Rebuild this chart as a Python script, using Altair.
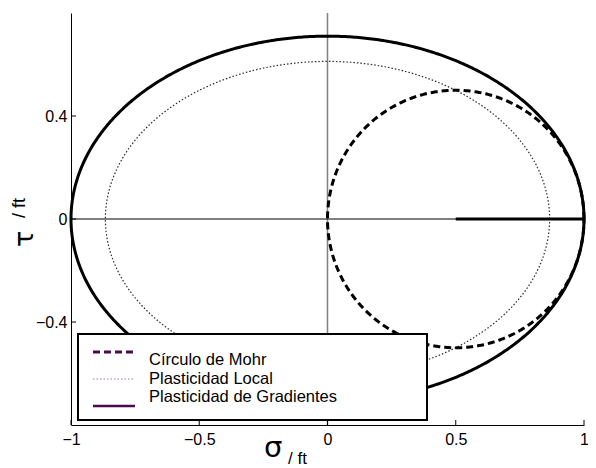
import numpy as np
import pandas as pd
import altair as alt

# ---- values ----
CURVE_NAMES = ["Plasticidad de Gradientes", "Plasticidad Local", "Círculo de Mohr"]
CENTER_X = [0.0, 0.0, 0.5]
RADIUS_X = [1.0, 0.866, 0.5]
RADIUS_Y = [0.71, 0.612, 0.5]
SEGMENT_X = [0.5, 1.0]
SEGMENT_Y = [0.0, 0.0]
X_TICKS = [-1, -0.5, 0, 0.5, 1]
Y_TICKS = [-0.4, 0, 0.4]
X_DOMAIN = [-1, 1]
Y_DOMAIN = [-0.8, 0.8]
LEGEND_LABELS = ["Círculo de Mohr", "Plasticidad Local", "Plasticidad de Gradientes"]

W, H = 513, 412
FONT = "Liberation Sans"

rows = []
t = np.linspace(0, 2 * np.pi, 721)
for name, cx, rx, ry in zip(CURVE_NAMES, CENTER_X, RADIUS_X, RADIUS_Y):
    for i, a in enumerate(t):
        rows.append({"curve": name, "i": i, "x": cx + rx * np.cos(a), "y": ry * np.sin(a)})
curves = pd.DataFrame(rows)
seg = pd.DataFrame({"x": SEGMENT_X, "y": SEGMENT_Y, "i": [0, 1]})

xs = alt.Scale(domain=X_DOMAIN, nice=False, zero=False)
ys = alt.Scale(domain=Y_DOMAIN, nice=False, zero=False)

base_axis_x = alt.Axis(values=X_TICKS, title=None, grid=False, ticks=False, format=".1~f",
                       labelFont=FONT, labelFontSize=16, labelColor="black",
                       domainColor="black", domainWidth=1, labelPadding=6,
                       labelFlush=False)
base_axis_y = alt.Axis(values=Y_TICKS, title=None, grid=False, ticks=False, format=".1~f",
                       labelFont=FONT, labelFontSize=16, labelColor="black",
                       domainColor="black", domainWidth=1, labelPadding=4,
                       labelFlush=False)

one = pd.DataFrame({"k": [0]})

vline = alt.Chart(pd.DataFrame({"x": [0]})).mark_rule(color="#808080", strokeWidth=1.5).encode(
    x=alt.X("x:Q", scale=xs, axis=base_axis_x))
hline = alt.Chart(pd.DataFrame({"y": [0]})).mark_rule(color="black", strokeWidth=1).encode(
    y=alt.Y("y:Q", scale=ys, axis=base_axis_y))

def curve_layer(name, **mk):
    return alt.Chart(curves[curves.curve == name]).mark_line(**mk).encode(
        x=alt.X("x:Q", scale=xs), y=alt.Y("y:Q", scale=ys), order="i:Q")

local = curve_layer("Plasticidad Local", color="#2a2a2a", strokeWidth=1.2, strokeDash=[1.5, 2])
mohr = curve_layer("Círculo de Mohr", color="black", strokeWidth=3, strokeDash=[7, 4])
grad = curve_layer("Plasticidad de Gradientes", color="black", strokeWidth=3)
segment = alt.Chart(seg).mark_line(color="black", strokeWidth=3).encode(
    x=alt.X("x:Q", scale=xs), y=alt.Y("y:Q", scale=ys), order="i:Q")

# inward ticks
xt = alt.Chart(pd.DataFrame({"x": X_TICKS})).mark_rule(color="black", strokeWidth=1).encode(
    x=alt.X("x:Q", scale=xs), y=alt.value(H), y2=alt.value(H - 5))
yt = alt.Chart(pd.DataFrame({"y": Y_TICKS})).mark_rule(color="black", strokeWidth=1).encode(
    y=alt.Y("y:Q", scale=ys), x=alt.value(0), x2=alt.value(5))

# legend
leg_box = alt.Chart(one).mark_rect(fill="white", stroke="black", strokeWidth=2).encode(
    x=alt.value(7), x2=alt.value(356), y=alt.value(321), y2=alt.value(407))
leg_dash = alt.Chart(one).mark_rule(color="#4B0B4B", strokeWidth=3, strokeDash=[7, 4]).encode(
    x=alt.value(22), x2=alt.value(64), y=alt.value(339))
leg_dot = alt.Chart(one).mark_rule(color="#9A7A9A", strokeWidth=1.2, strokeDash=[1.5, 2]).encode(
    x=alt.value(22), x2=alt.value(64), y=alt.value(366))
leg_solid = alt.Chart(one).mark_rule(color="#4B0B4B", strokeWidth=2.5).encode(
    x=alt.value(22), x2=alt.value(64), y=alt.value(393))
leg_text = alt.Chart(pd.DataFrame({"label": LEGEND_LABELS, "py": [347, 365.5, 384]})).mark_text(
    font=FONT, fontSize=16.5, align="left", baseline="middle", color="black").encode(
    x=alt.value(78), y=alt.Y("py:Q", scale=None), text="label:N")

# axis titles
sig = alt.Chart(one).mark_text(text="σ", font="DejaVu Sans", fontSize=29, align="left",
                               baseline="alphabetic", color="black").encode(
    x=alt.value(193), y=alt.value(444))
sig_sub = alt.Chart(one).mark_text(text="/ ft", font=FONT, fontSize=17, align="left",
                                   baseline="alphabetic", color="black").encode(
    x=alt.value(217), y=alt.value(451))
tau = alt.Chart(one).mark_text(text="τ", font="DejaVu Sans", fontSize=27, align="left",
                               baseline="middle", angle=270, color="black").encode(
    x=alt.value(-46), y=alt.value(234))
tau_sub = alt.Chart(one).mark_text(text="/ ft", font=FONT, fontSize=18, align="left",
                                   baseline="middle", angle=270, color="black").encode(
    x=alt.value(-51), y=alt.value(205))

chart = alt.layer(vline, hline, local, mohr, grad, segment, xt, yt,
                  leg_box, leg_dash, leg_dot, leg_solid, leg_text,
                  sig, sig_sub, tau, tau_sub).properties(
    width=W, height=H,
    autosize=alt.AutoSizeParams(type="none"),
    padding={"left": 63, "top": 5, "right": 4, "bottom": 43},
    background="white",
).configure_view(stroke=None)

chart.save("out.html", embed_options={"renderer": "svg", "actions": False})
